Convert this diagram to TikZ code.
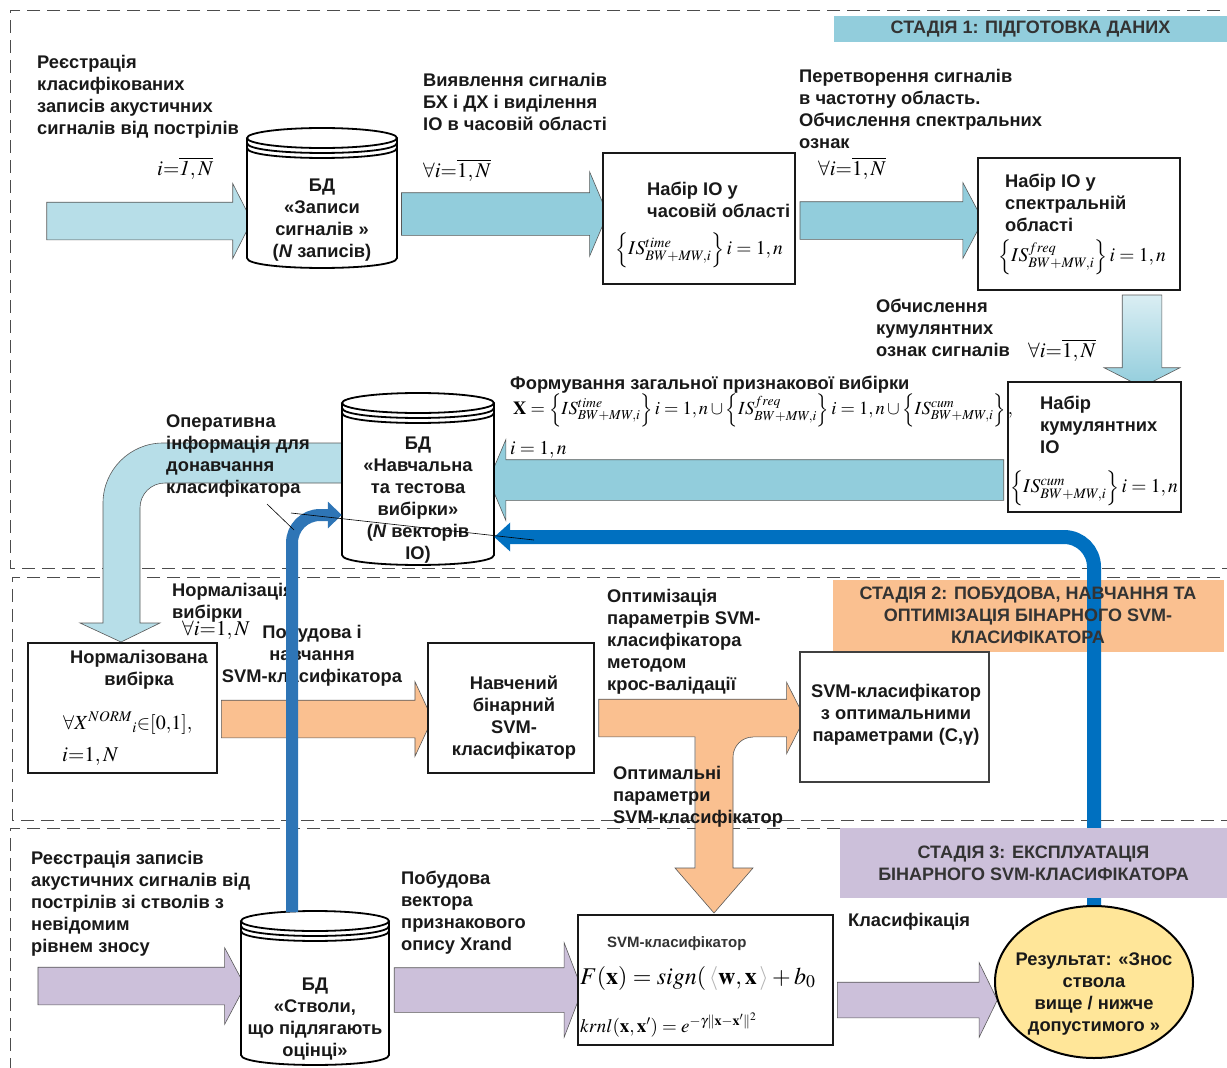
\documentclass[tikz,border=0pt]{standalone}
\usepackage{mathptmx}
\usepackage[no-math]{fontspec}
\setmainfont{Liberation Sans}
\usetikzlibrary{arrows.meta,shapes.arrows,shapes.geometric}

\definecolor{lblue}{HTML}{B7DEE8}
\definecolor{mblue}{HTML}{92CDDC}
\definecolor{pblue}{HTML}{DAEEF3}
\definecolor{orng}{HTML}{FAC090}
\definecolor{lvnd}{HTML}{CCC0DA}
\definecolor{dblue}{HTML}{0070C0}
\definecolor{sblue}{HTML}{2E75B6}
\definecolor{ylw}{HTML}{FFE699}

\tikzset{
  lbl/.style={font=\bfseries\fontsize{18.3}{22}\selectfont, align=left, inner sep=0pt, text=black!90},
  clbl/.style={lbl, align=center},
  stgbox/.style={font=\bfseries\fontsize{18}{22}\selectfont, align=center, inner sep=0pt, text=black!80},
  fml/.style={inner sep=0pt, anchor=west, font=\fontsize{21}{25}\selectfont},
  box/.style={draw=black!90, line width=2pt, fill=white, inner sep=0pt},
  frm/.style={draw=black!70, line width=0.8pt, dash pattern=on 13pt off 7pt},
  dbline/.style={draw=black, line width=1.8pt},
  blkline/.style={draw=black!65, line width=0.6pt},
  blkarr/.style n args={4}{single arrow, blkline, inner xsep=0pt, inner ysep=#2,
    minimum height=#1, single arrow head extend=#3, single arrow tip angle=#4},
}

\newcommand\dbcyl[4]{%
  \fill[white] (#1-#4,#2) -- (#1-#4,#3) .. controls (#1-#4,#3+13.3) and (#1+#4,#3+13.3) .. (#1+#4,#3)
    -- (#1+#4,#2) .. controls (#1+#4,#2-13.3) and (#1-#4,#2-13.3) .. (#1-#4,#2) -- cycle;
  \draw[dbline] (#1-#4,#2) -- (#1-#4,#3) .. controls (#1-#4,#3+13.3) and (#1+#4,#3+13.3) .. (#1+#4,#3) -- (#1+#4,#2);
  \draw[dbline] (#1,#2) ellipse [x radius=#4, y radius=10];
  \draw[dbline] (#1-#4,#2+5) .. controls (#1-#4,#2+18.3) and (#1+#4,#2+18.3) .. (#1+#4,#2+5);
  \draw[dbline] (#1-#4,#2+10) .. controls (#1-#4,#2+23.3) and (#1+#4,#2+23.3) .. (#1+#4,#2+10);
}

\begin{document}
\begin{tikzpicture}[x=1pt,y=-1pt]
\useasboundingbox (0,0) rectangle (1227,1068);

% stages
\draw[frm] (1240,10) -- (10,10) -- (10,568) -- (1240,568);
\draw[frm] (1240,577) -- (12,577) -- (12,820) -- (1240,820);
\draw[frm] (1240,828) -- (10,828) -- (10,1080);

\node[stgbox, fill=mblue, minimum width=393pt, minimum height=26pt] (s1) at (1030.5,29) {СТАДІЯ 1: ПІДГОТОВКА ДАНИХ};
\node[stgbox, fill=orng, minimum width=391pt, minimum height=72pt] (s2bg) at (1028.5,616) {};

% block arrows
\node[blkarr={205pt}{18.5pt}{18.5pt}{126}, fill=lblue] (a1) at (144.5,221) {};
\node[blkarr={206pt}{21pt}{21pt}{134}, fill=mblue] (a2) at (500,214) {};
\node[blkarr={183pt}{18.5pt}{19pt}{124}, fill=mblue] (a3) at (886.5,220.5) {};
\node[blkarr={92pt}{19.5pt}{18pt}{126}, top color=pblue, bottom color=mblue, rotate=-90] (a4) at (1142,336) {};
\node[blkarr={515pt}{20pt}{20pt}{134}, fill=mblue, rotate=180] (a5) at (750.5,480) {};
\node[blkarr={211pt}{18.5pt}{18.5pt}{130}, fill=orng] (o1) at (322.5,719) {};
\node[blkarr={206pt}{18.5pt}{17pt}{126}, fill=orng] (o2) at (697,718) {};
\node[blkarr={207pt}{18.5pt}{19.5pt}{124}, fill=lvnd] (l1) at (136.5,986) {};
\node[blkarr={188pt}{22pt}{25pt}{138}, fill=lvnd] (l2) at (484,990) {};
\node[blkarr={160pt}{17.5pt}{19.5pt}{128}, fill=lvnd] (l3) at (913,1000) {};

% branch of optimal parameters
\fill[orng] (695.3,735) -- (695.3,868) -- (675,868) -- (714,913) -- (753,868) -- (733,868) -- (733,757)
  .. controls (733,746) and (742,737) .. (753,737) -- (753,735) -- cycle;
\draw[blkline] (695,737) -- (695,868) -- (675,868) -- (714,913) -- (753,868) -- (733,868) -- (733,757)
  .. controls (733,746) and (742,737) .. (753,737);

% feedback for retraining
\filldraw[blkline, fill=lblue] (343,443) -- (163,443) .. controls (130,443) and (103,470) .. (103,503)
  -- (103,623) -- (80,623) -- (121,642) -- (160,623) -- (140,623) -- (140,508)
  .. controls (140,494) and (151,483) .. (165,483) -- (343,483) -- cycle;

% databases
\dbcyl{322}{138}{258}{75}
\dbcyl{418}{403}{555}{76}
\dbcyl{315}{921}{1055}{74}

% boxes
\node[box, minimum width=192pt, minimum height=131pt] (tbox) at (699,218.5) {};
\node[box, minimum width=202pt, minimum height=132pt] (fbox) at (1079,224) {};
\node[box, minimum width=173pt, minimum height=130pt] (cbox) at (1094.5,447) {};
\node[box, minimum width=189pt, minimum height=130pt] (nbox) at (122.5,708) {};
\node[box, minimum width=166pt, minimum height=130pt] (trbox) at (511,708) {};
\node[box, draw=black!75, minimum width=189pt, minimum height=130pt] (obox) at (894.5,717) {};
\node[box, minimum width=255pt, minimum height=130pt] (cls) at (705.5,980) {};
\node[ellipse, draw=black, line width=2pt, fill=ylw, minimum width=198pt, minimum height=152pt] (res) at (1094,982) {};

% database texts
\node[clbl, minimum width=152pt] (db1) at (322,220) {БД\\«Записи\\сигналів »\\(\textit{N} записів)};
\node[clbl, minimum width=152pt] (db2) at (418,500) {БД\\«Навчальна\\та тестова\\вибірки»\\(\textit{N} векторів\\ІО)};
\node[clbl, minimum width=148pt] (db3) at (315,1019) {БД\\«Стволи,\\що підлягають\\оцінці»};
\coordinate (db3top) at (292,912);

% results back to training set
\draw[dblue, line width=14pt, rounded corners=30pt, -{Triangle[length=16pt,width=28pt]}] (res.north) |- ([yshift=-37pt]db2.east);

\node[stgbox] (s2) at (1028,615) {СТАДІЯ 2: ПОБУДОВА, НАВЧАННЯ ТА\\ОПТИМІЗАЦІЯ БІНАРНОГО SVM-\\КЛАСИФІКАТОРА};
\node[stgbox, fill=lvnd, minimum width=387pt, minimum height=70pt] (s3) at (1033.5,863) {СТАДІЯ 3: ЕКСПЛУАТАЦІЯ\\БІНАРНОГО SVM-КЛАСИФІКАТОРА};

% texts
\node[lbl, anchor=north west] (t1) at (37,55.5) {Реєстрація\\класифікованих\\записів акустичних\\сигналів від пострілів};
\node[lbl, anchor=north west] (t2) at (423,73.5) {Виявлення сигналів\\БХ і ДХ і виділення\\ІО в часовій області};
\node[lbl, anchor=north west] (t3) at (799,69.5) {Перетворення сигналів\\в частотну область.\\Обчислення спектральних\\ознак};
\node[lbl, anchor=north west] (t4) at (876,298.5) {Обчислення\\кумулянтних\\ознак сигналів};
\node[lbl, anchor=north west] (t5) at (510,375.5) {Формування загальної признакової вибірки};
\node[lbl, anchor=north west] (t6) at (166,414.5) {Оперативна\\інформація для\\донавчання\\класифікатора};
\node[lbl, anchor=north west] (t7) at (172,583.5) {Нормалізація\\вибірки};
\node[clbl, anchor=north] (t8) at (312,624.5) {Побудова і\\навчання\\SVM-класифікатора};
\node[lbl, anchor=north west] (t9) at (607,589.5) {Оптимізація\\параметрів SVM-\\класифікатора\\методом\\крос-валідації};
\node[lbl, anchor=north west] (t10) at (613,766.5) {Оптимальні\\параметри\\SVM-класифікатор};
\node[lbl, anchor=north west] (t11) at (31,851.5) {Реєстрація записів\\акустичних сигналів від\\пострілів зі стволів з\\невідомим\\рівнем зносу};
\node[lbl, anchor=north west] (t12) at (401,870.5) {Побудова\\вектора\\признакового\\опису Xrand};
\node[lbl, anchor=north west] (t13) at (848,913.5) {Класифікація};

\node[lbl, anchor=north west] (tboxt) at (647,181.5) {Набір ІО у\\часовій області};
\node[lbl, anchor=north west] (fboxt) at (1005,173.5) {Набір ІО у\\спектральній\\області};
\node[lbl, anchor=north west] (cboxt) at (1040,395.5) {Набір\\кумулянтних\\ІО};
\node[clbl, anchor=north] (nboxt) at (139,650.5) {Нормалізована\\вибірка};
\node[clbl] (trboxt) at (514,718) {Навчений\\бінарний\\SVM-\\класифікатор};
\node[clbl] (oboxt) at (896,715) {SVM-класифікатор\\з оптимальними\\параметрами (C,γ)};
\node[lbl, anchor=west, font=\bfseries\fontsize{15}{20}\selectfont, text=black!80] (clst) at (607,944) {SVM-класифікатор};
\node[clbl] (rest) at (1094,994) {Результат: «Знос\\ствола\\вище / нижче\\допустимого »};

% formulas
\node[fml] (f0) at (157,168) {$i{=}\overline{\mathit{1},N}$};
\node[fml] (f1) at (423,170) {$\forall i{=}\overline{1,N}$};
\node[fml] (f2) at (818,168) {$\forall i{=}\overline{1,N}$};
\node[fml] (f3) at (1028,350) {$\forall i{=}\overline{1,N}$};
\node[fml] (f4) at (182,630) {$\forall i{=}1,N$};
\node[fml, font=\fontsize{19.5}{24}\selectfont] (tboxf) at (615,250) {$\left\{IS^{time}_{BW+MW,i}\right\}i=1,n$};
\node[fml, font=\fontsize{19.5}{24}\selectfont] (fboxf) at (998,257) {$\left\{IS^{freq}_{BW+MW,i}\right\}i=1,n$};
\node[fml, font=\fontsize{19.5}{24}\selectfont] (cboxf) at (1010,488) {$\left\{IS^{cum}_{BW+MW,i}\right\}i=1,n$};
\node[fml, font=\fontsize{18.5}{22}\selectfont] (xf) at (513,410) {$\mathbf{X}=\left\{IS^{time}_{BW+MW,i}\right\}i=1,n\cup\left\{IS^{freq}_{BW+MW,i}\right\}i=1,n\cup\left\{IS^{cum}_{BW+MW,i}\right\},$};
\node[fml, font=\fontsize{19.5}{24}\selectfont] (xfi) at (510,450) {$i=1,n$};
\node[fml, font=\fontsize{20}{24}\selectfont] (nf1) at (63,723) {$\forall X^{NORM}{}_{i}{\in}[0{,}1],$};
\node[fml] (nf2) at (62,757) {$i{=}1,N$};
\node[fml, font=\fontsize{24}{28}\selectfont] (clsf1) at (580,978) {$F(\mathbf{x})=sign(\,{\color{black!30}\langle}\mathbf{w},\mathbf{x}\,{\color{black!30}\rangle}+b_0$};
\node[fml, font=\fontsize{19}{23}\selectfont] (clsf2) at (580,1025) {$krnl(\mathbf{x},\mathbf{x}')=e^{-\gamma\|\mathbf{x}-\mathbf{x}'\|^{2}}$};

% building the training set
\draw[sblue, line width=12pt, rounded corners=28pt, -{Triangle[length=14pt,width=26pt]}] (db3top) |- ([yshift=-15pt]db2.west);

\draw[black, line width=0.6pt] (267,504) -- (294,530);
\draw[black, line width=0.6pt] (291,513) -- (534,540);

\end{tikzpicture}
\end{document}
